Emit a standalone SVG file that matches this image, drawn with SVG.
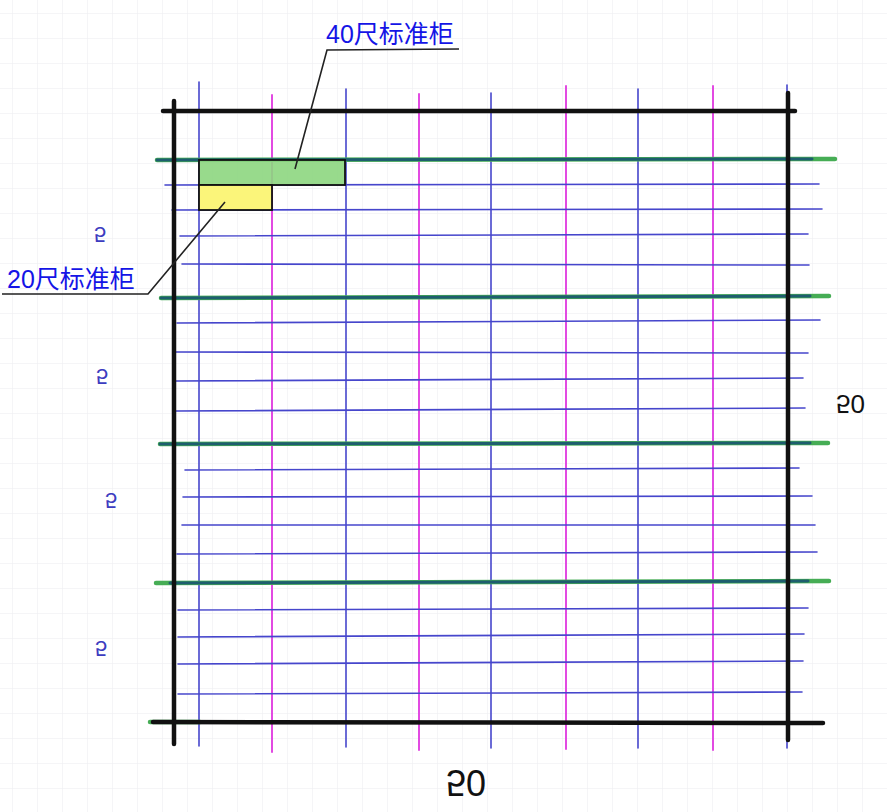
<svg xmlns="http://www.w3.org/2000/svg" width="887" height="812" viewBox="0 0 887 812">
  <defs>
    <pattern id="paper" x="12" y="13" width="25" height="25" patternUnits="userSpaceOnUse">
      <path d="M0 0H25M0 0V25" fill="none" stroke="#ececf0" stroke-width="1"/>
    </pattern>
    <style>
      .blue{stroke:#4646cc;stroke-width:1.6;fill:none;stroke-linecap:round}
      .mag{stroke:#e24ae2;stroke-width:2;fill:none;stroke-linecap:round}
      .green{stroke:#46ad55;stroke-width:4.5;fill:none;stroke-linecap:round}
      .greenc{stroke:#1e5e6e;stroke-width:3;fill:none;stroke-linecap:round}
      .frame{stroke:#111;stroke-width:4.5;fill:none;stroke-linecap:round}
      .lead{stroke:#222;stroke-width:1.6;fill:none}
      .lbl{font-family:"Liberation Sans","Noto Sans CJK SC",sans-serif;font-size:25px;fill:#1414e6}
      .hand{font-family:"Liberation Sans",sans-serif;fill:#3c3cc0}
      .handk{font-family:"Liberation Sans",sans-serif;fill:#111}
    </style>
  </defs>
  <rect width="887" height="812" fill="#fff"/>
  <rect width="887" height="812" fill="url(#paper)"/>

  <g id="vertical-lines">
    <line class="blue" x1="199" y1="82" x2="199" y2="746"/>
    <line class="mag" x1="272" y1="95" x2="272" y2="752"/>
    <line class="blue" x1="346" y1="89" x2="346" y2="747"/>
    <line class="mag" x1="419" y1="94" x2="419" y2="750"/>
    <line class="blue" x1="491" y1="93" x2="491" y2="748"/>
    <line class="mag" x1="566" y1="86" x2="566" y2="749"/>
    <line class="blue" x1="638" y1="89" x2="638" y2="748"/>
    <line class="mag" x1="713" y1="86" x2="713" y2="750"/>
    <line class="blue" x1="787" y1="85" x2="787" y2="748"/>
  </g>

  <g id="horizontal-lines">
    <line class="blue" x1="165" y1="185" x2="819" y2="184"/>
    <line class="blue" x1="172" y1="210" x2="822" y2="209"/>
    <line class="blue" x1="180" y1="236" x2="808" y2="234"/>
    <line class="blue" x1="182" y1="264" x2="809" y2="265"/>
    <line class="blue" x1="177" y1="323" x2="820" y2="320"/>
    <line class="blue" x1="176" y1="352" x2="808" y2="353"/>
    <line class="blue" x1="176" y1="381" x2="803" y2="378"/>
    <line class="blue" x1="176" y1="411" x2="805" y2="408"/>
    <line class="blue" x1="185" y1="470" x2="799" y2="468"/>
    <line class="blue" x1="183" y1="497" x2="812" y2="496"/>
    <line class="blue" x1="182" y1="525" x2="815" y2="525"/>
    <line class="blue" x1="177" y1="554" x2="817" y2="552"/>
    <line class="blue" x1="178" y1="610" x2="808" y2="608"/>
    <line class="blue" x1="178" y1="637" x2="804" y2="634"/>
    <line class="blue" x1="178" y1="664" x2="803" y2="661"/>
    <line class="blue" x1="178" y1="694" x2="802" y2="692"/>
  </g>

  <g id="block-lines">
    <line class="green" x1="157" y1="160" x2="835" y2="159"/>
    <line class="greenc" x1="157" y1="160" x2="812" y2="159"/>
    <line class="green" x1="161" y1="298" x2="829" y2="296"/>
    <line class="greenc" x1="161" y1="298" x2="810" y2="296"/>
    <line class="green" x1="160" y1="444" x2="828" y2="443"/>
    <line class="greenc" x1="160" y1="444" x2="810" y2="443"/>
    <line class="green" x1="156" y1="583" x2="829" y2="581"/>
    <line class="greenc" x1="170" y1="583" x2="808" y2="581"/>
    <line class="green" x1="150" y1="722" x2="200" y2="722"/>
  </g>

  <g id="frame">
    <line class="frame" x1="163" y1="111" x2="795" y2="111"/>
    <line class="frame" x1="174" y1="101" x2="174" y2="744"/>
    <line class="frame" x1="788" y1="93" x2="788" y2="740"/>
    <line class="frame" x1="153" y1="722" x2="823" y2="723"/>
  </g>

  <g id="container-40">
    <rect x="199" y="160" width="146" height="25" fill="#8dd67f" fill-opacity="0.9" stroke="#111" stroke-width="1.8"/>
  </g>
  <g id="container-20">
    <rect x="199" y="185" width="73" height="25" fill="#fbf57a" stroke="#111" stroke-width="1.8"/>
  </g>

  <g id="connectors">
    <polyline class="lead" points="295,169 327,50 459,49"/>
    <polyline class="lead" points="225,202 148,294 2,294"/>
  </g>

  <g id="label-40">
    <text class="lbl" x="326" y="43">40尺标准柜</text>
  </g>
  <g id="label-20">
    <text class="lbl" x="7" y="288">20尺标准柜</text>
  </g>

  <g id="dimensions">
    <text class="hand" font-size="22" transform="translate(94,227) scale(1,-1)">5</text>
    <text class="hand" font-size="22" transform="translate(96,369) scale(1,-1)">5</text>
    <text class="hand" font-size="22" transform="translate(105,493) scale(1,-1)">5</text>
    <text class="hand" font-size="22" transform="translate(95,641) scale(1,-1)">5</text>
    <text class="handk" font-size="26" transform="translate(836,395) scale(1,-1)">50</text>
    <text class="handk" font-size="36" transform="translate(446,770) scale(1,-1)">50</text>
  </g>
</svg>
